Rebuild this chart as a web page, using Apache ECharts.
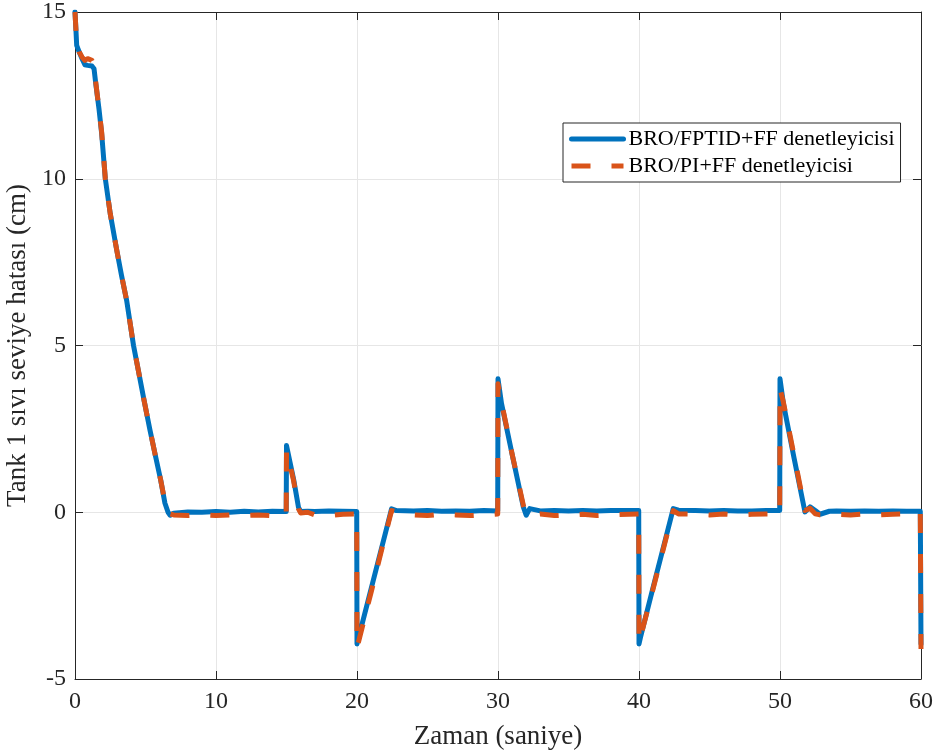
<!DOCTYPE html>
<html>
<head>
<meta charset="utf-8">
<script src="https://cdn.jsdelivr.net/npm/echarts@6/dist/echarts.min.js"></script>
<style>
html,body{margin:0;padding:0;background:#fff;}
#chart{width:938px;height:755px;}
</style>
</head>
<body>
<div id="chart"></div>
<script>
// Time (s)
const time = [0, 0.05, 0.12, 0.3, 0.5, 0.7, 0.9, 1.2, 1.35, 1.47, 1.7, 1.89, 2.15, 2.5, 2.96, 3.3, 3.66, 4.15, 4.49, 4.9, 5.32, 5.7, 6.08, 6.38, 6.6, 6.75, 7.0,
  8, 9, 10, 11, 12, 13, 14, 14.98, 15.0, 15.1, 15.5, 15.85, 16.0, 16.5, 17, 18, 19, 19.98,
  20.0, 20.1, 21.0, 22.0, 22.45, 22.8, 24, 25, 26, 27, 28, 29, 29.98,
  30.0, 30.25, 31.0, 31.8, 32.0, 32.25, 33, 34, 35, 36, 37, 38, 39.98,
  40.0, 40.1, 41.0, 42.0, 42.43, 42.8, 44, 45, 46, 47, 48, 49, 49.98,
  50.0, 50.24, 51.0, 51.77, 52.13, 52.5, 52.84, 53.5, 54, 55, 56, 57, 58, 59, 59.95, 60.0];
// BRO/FPTID+FF
const broFptid = [15, 14.6, 14.0, 13.8, 13.6, 13.42, 13.4, 13.38, 13.3, 12.86, 12.1, 11.36, 10.0, 8.95, 7.86, 7.1, 6.36, 5.0, 4.26, 3.35, 2.46, 1.7, 0.96, 0.27, 0.0, -0.09, -0.03,
  0.01, 0.0, 0.02, 0.0, 0.03, 0.01, 0.03, 0.02, 2.0, 1.8, 1.0, 0.15, 0.02, 0.03, 0.02, 0.04, 0.03, 0.02,
  -3.95, -3.78, -2.3, -0.65, 0.1, 0.05, 0.04, 0.05, 0.03, 0.04, 0.03, 0.05, 0.04,
  4.0, 3.26, 1.74, 0.15, -0.09, 0.11, 0.04, 0.05, 0.04, 0.05, 0.04, 0.05, 0.05,
  -3.95, -3.76, -2.25, -0.6, 0.11, 0.06, 0.05, 0.04, 0.05, 0.04, 0.04, 0.05, 0.05,
  4.0, 3.26, 1.62, 0.01, 0.16, 0.05, -0.06, 0.03, 0.04, 0.03, 0.04, 0.03, 0.04, 0.03, 0.03, -3.95];
// BRO/PI+FF
const broPi = [15, 14.6, 14.05, 13.8, 13.65, 13.55, 13.6, 13.55, 13.4, 12.9, 12.1, 11.4, 10.0, 8.95, 7.86, 7.1, 6.36, 5.0, 4.26, 3.35, 2.46, 1.7, 0.96, 0.3, 0.05, -0.05, -0.08,
  -0.1, -0.08, -0.1, -0.08, -0.1, -0.08, -0.1, -0.1, 1.85, 1.7, 0.95, 0.1, -0.02, 0.0, -0.08, -0.1, -0.06, -0.05,
  -4.05, -3.9, -2.4, -0.7, 0.05, 0.02, -0.08, -0.1, -0.06, -0.08, -0.1, -0.08, -0.05,
  3.85, 3.3, 1.75, 0.2, -0.05, -0.08, -0.05, -0.1, -0.08, -0.06, -0.1, -0.08, -0.05,
  -3.9, -3.75, -2.3, -0.65, 0.05, -0.05, -0.06, -0.08, -0.05, -0.08, -0.06, -0.05, -0.05,
  3.7, 3.3, 1.7, 0.05, 0.12, -0.05, -0.08, -0.08, -0.06, -0.08, -0.05, -0.08, -0.06, -0.05, -0.03, -4.1];
const xTicks = [0, 10, 20, 30, 40, 50, 60];
const yTicks = [-5, 0, 5, 10, 15];
const seriesNames = ['BRO/FPTID+FF denetleyicisi', 'BRO/PI+FF denetleyicisi'];

const pairs = (vals) => time.map((t, i) => [t, vals[i]]);
const font = 'Liberation Serif, Times New Roman, serif';
const chart = echarts.init(document.getElementById('chart'), null, {renderer: 'canvas'});
const baseAxis = {
  axisLine: {show: true, onZero: false, lineStyle: {color: '#262626', width: 1}},
  axisTick: {show: true, inside: true, length: 8, lineStyle: {color: '#262626'}},
  splitLine: {show: false}
};
chart.setOption({
  animation: false,
  backgroundColor: '#fff',
  grid: {left: 75, right: 17, top: 12, bottom: 76, containLabel: false, outerBoundsMode: 'none'},
  legend: {
    orient: 'vertical', left: 563, top: 123,
    data: seriesNames,
    backgroundColor: '#fff', borderColor: '#262626', borderWidth: 1,
    padding: [5, 6, 5, 6], itemGap: 5, itemWidth: 52, itemHeight: 22,
    itemStyle: {opacity: 0},
    lineStyle: {width: 5},
    textStyle: {fontFamily: font, fontSize: 22, color: '#000'}
  },
  xAxis: [
    Object.assign({}, baseAxis, {
      type: 'value', min: 0, max: 60, interval: 10, position: 'bottom',
      name: 'Zaman (saniye)', nameLocation: 'middle', nameGap: 44,
      nameTextStyle: {fontFamily: font, fontSize: 27, color: '#262626'},
      axisLabel: {fontFamily: font, fontSize: 24, color: '#262626', margin: 11},
      splitLine: {show: true, lineStyle: {color: '#e6e6e6', width: 1}}
    }),
    Object.assign({}, baseAxis, {
      type: 'value', min: 0, max: 60, interval: 10, position: 'top',
      axisLabel: {show: false}
    })
  ],
  yAxis: [
    Object.assign({}, baseAxis, {
      type: 'value', min: -5, max: 15, interval: 5, position: 'left',
      name: 'Tank 1 sıvı seviye hatası (cm)', nameLocation: 'middle', nameGap: 38,
      nameTextStyle: {fontFamily: font, fontSize: 27, color: '#262626'},
      axisLabel: {fontFamily: font, fontSize: 24, color: '#262626', margin: 9},
      splitLine: {show: true, lineStyle: {color: '#e6e6e6', width: 1}}
    }),
    Object.assign({}, baseAxis, {
      type: 'value', min: -5, max: 15, interval: 5, position: 'right',
      axisLabel: {show: false}
    })
  ],
  series: [
    {
      name: seriesNames[0], type: 'line', data: pairs(broFptid),
      symbol: 'none', color: '#0072BD',
      lineStyle: {color: '#0072BD', width: 5, cap: 'round', join: 'round'},
      z: 2
    },
    {
      name: seriesNames[1], type: 'line', data: pairs(broPi),
      symbol: 'none', color: '#D95319',
      lineStyle: {color: '#D95319', width: 5, type: [19, 21], cap: 'butt', join: 'round'},
      z: 3
    }
  ]
});
</script>
</body>
</html>
